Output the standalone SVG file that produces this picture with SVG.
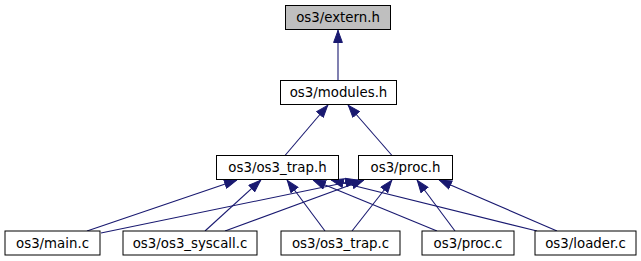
<svg xmlns="http://www.w3.org/2000/svg" width="641" height="261" viewBox="0 0 641 261">
  <defs>
    <style>
      .node rect { fill: #ffffff; stroke: #000000; stroke-width: 1; }
      .node.root rect { fill: #bfbfbf; }
      .node text { font-family: "DejaVu Sans", sans-serif; font-size: 13.33px; fill: #000000; text-anchor: middle; }
      .edge { fill: none; stroke: #191970; stroke-width: 1.1; }
    </style>
    <marker id="arrow" markerUnits="userSpaceOnUse" markerWidth="13" markerHeight="10" refX="13" refY="5" orient="auto">
      <path d="M0.5,0.6 L12.5,5 L0.5,9.4 Z" fill="#191970" stroke="#191970" stroke-width="1"/>
    </marker>
  </defs>

  <!-- include edges: each file points up to the header it includes -->
  <g id="edges">
    <path class="edge" marker-end="url(#arrow)" d="M338,80.5 L338,30"/>
    <path class="edge" marker-end="url(#arrow)" d="M285,155.5 L328,105"/>
    <path class="edge" marker-end="url(#arrow)" d="M392,155.5 L348,105"/>
    <path class="edge" marker-end="url(#arrow)" d="M87,231 L237,180"/>
    <path class="edge" marker-end="url(#arrow)" d="M101,233 L358,180"/>
    <path class="edge" marker-end="url(#arrow)" d="M205,231 L261,180"/>
    <path class="edge" marker-end="url(#arrow)" d="M225,231 L364,180"/>
    <path class="edge" marker-end="url(#arrow)" d="M325,231 L287,180"/>
    <path class="edge" marker-end="url(#arrow)" d="M352,231 L392,180"/>
    <path class="edge" marker-end="url(#arrow)" d="M437,231 L313,180"/>
    <path class="edge" marker-end="url(#arrow)" d="M455,231 L417,180"/>
    <path class="edge" marker-end="url(#arrow)" d="M537,231 L331,180"/>
    <path class="edge" marker-end="url(#arrow)" d="M557,231 L439,180"/>
  </g>

  <g id="node-extern" class="node root">
    <rect x="285.5" y="5.5" width="105" height="24"/>
    <text x="338" y="22">os3/extern.h</text>
  </g>
  <g id="node-modules" class="node">
    <rect x="280.5" y="80.5" width="116" height="24"/>
    <text x="338.5" y="97">os3/modules.h</text>
  </g>
  <g id="node-os3-trap-h" class="node">
    <rect x="216.5" y="155.5" width="122" height="24"/>
    <text x="277.5" y="172">os3/os3_trap.h</text>
  </g>
  <g id="node-proc-h" class="node">
    <rect x="358.5" y="155.5" width="94" height="24"/>
    <text x="405.5" y="172">os3/proc.h</text>
  </g>
  <g id="node-main-c" class="node">
    <rect x="5" y="231" width="95" height="24"/>
    <text x="52.5" y="247.5">os3/main.c</text>
  </g>
  <g id="node-os3-syscall-c" class="node">
    <rect x="123" y="231" width="134" height="24"/>
    <text x="190" y="247.5">os3/os3_syscall.c</text>
  </g>
  <g id="node-os3-trap-c" class="node">
    <rect x="281" y="231" width="119" height="24"/>
    <text x="340.5" y="247.5">os3/os3_trap.c</text>
  </g>
  <g id="node-proc-c" class="node">
    <rect x="422" y="231" width="92" height="24"/>
    <text x="468" y="247.5">os3/proc.c</text>
  </g>
  <g id="node-loader-c" class="node">
    <rect x="535" y="231" width="101" height="24"/>
    <text x="585.5" y="247.5">os3/loader.c</text>
  </g>
</svg>
